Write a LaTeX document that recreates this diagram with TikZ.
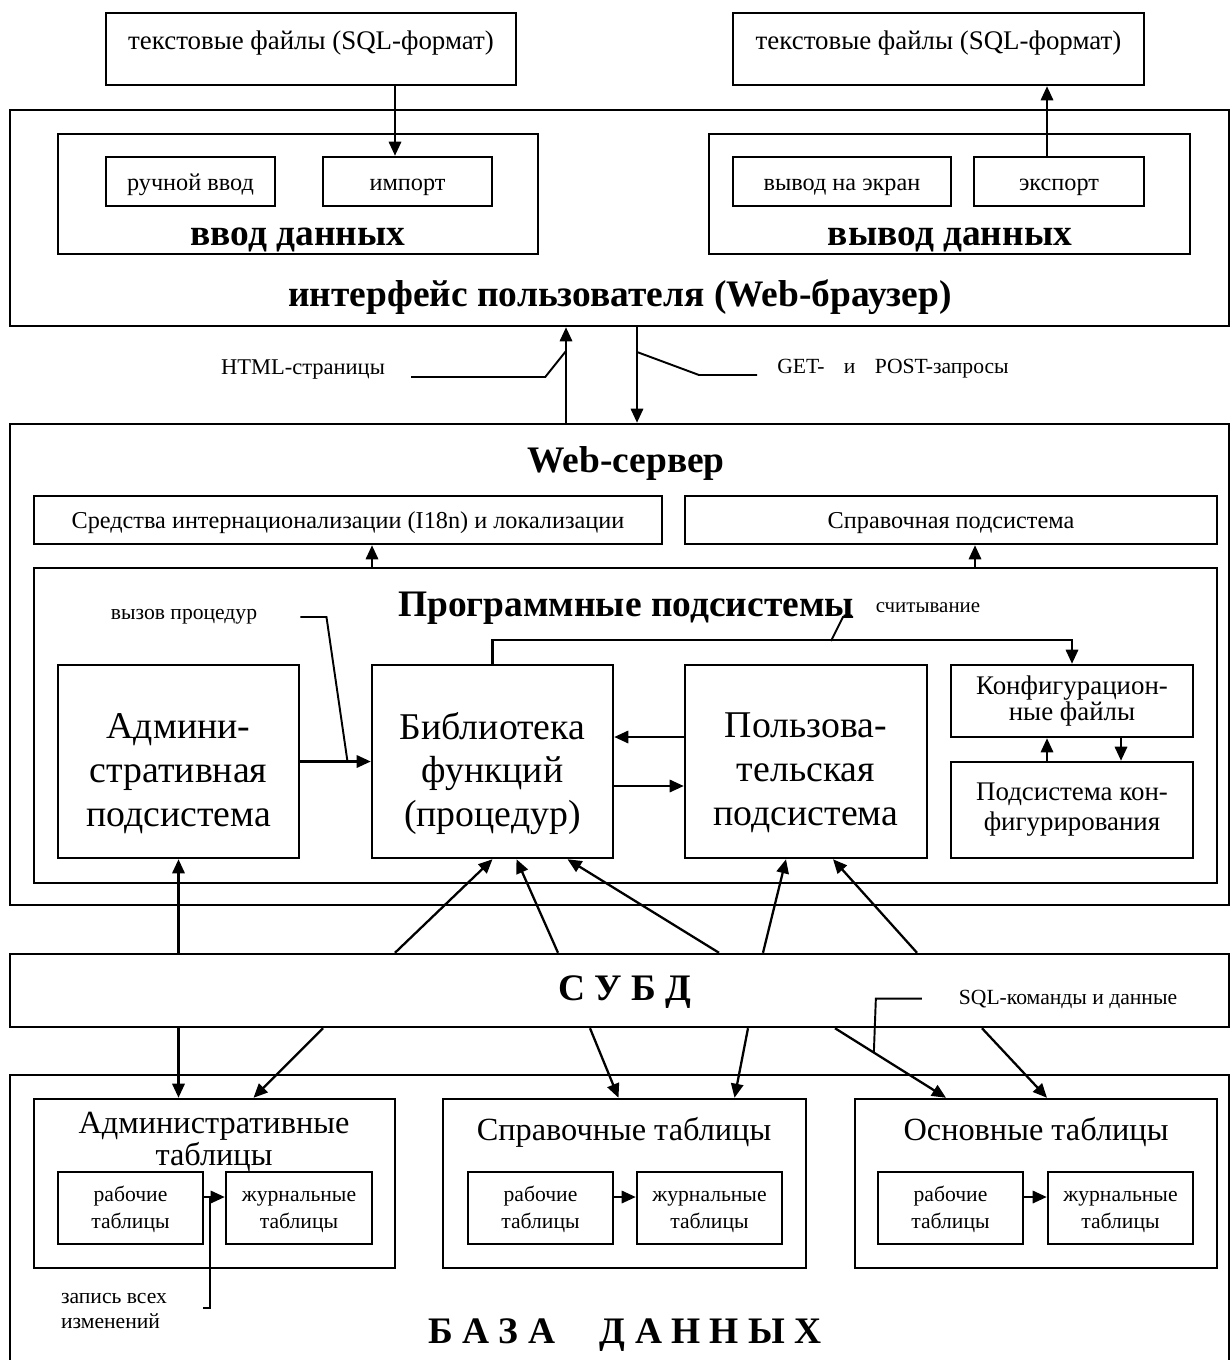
\documentclass[tikz,border=0pt]{standalone}
\usepackage{fontspec}
\setmainfont{Liberation Serif}
\usepackage{tikz}
\usetikzlibrary{arrows.meta, calc}

\tikzset{
  box/.style={draw, line width=1.4pt, inner sep=0pt, align=center},
  arr/.style={-{Triangle[length=8pt, width=7pt]}, line width=1.3pt},
  lead/.style={line width=1.1pt},
  hdr/.style={inner sep=0pt, font=\fontsize{21.3}{24}\selectfont\bfseries},
  big/.style={inner sep=0pt, align=center, font=\fontsize{21.5}{25}\selectfont},
  txt/.style={text height=13pt, text depth=3pt, font=\fontsize{13.8}{16}\selectfont},
  mid/.style={inner sep=0pt, align=center, font=\fontsize{18.4}{17}\selectfont},
  small/.style={font=\fontsize{12.3}{15.4}\selectfont},
  lbl/.style={inner sep=0pt, font=\fontsize{12.3}{14}\selectfont},
}

\begin{document}
\begin{tikzpicture}[x=0.2mm, y=-0.2mm]
  \useasboundingbox (0,0) rectangle (1231,1360);

  % user interface
  \node[box, minimum width=82mm, minimum height=14.4mm] (txtin) at (311,49) {};
  \node[inner sep=0pt, font=\fontsize{15.3}{18}\selectfont] (txtinname) at ($(txtin.north)+(0,31)$) {текстовые файлы (SQL-формат)};
  \node[box, minimum width=82.2mm, minimum height=14.4mm] (txtout) at (938.5,49) {};
  \node[inner sep=0pt, font=\fontsize{15.3}{18}\selectfont] (txtoutname) at ($(txtout.north)+(0,31)$) {текстовые файлы (SQL-формат)};

  \node[box, minimum width=243.8mm, minimum height=43.2mm] (ui) at (619.5,218) {};
  \node[box, minimum width=96mm, minimum height=24mm] (ingrp) at (298,194) {};
  \node[box, txt, minimum width=33.8mm, minimum height=9.8mm] (manual) at (190.5,181.5) {ручной ввод};
  \node[box, txt, minimum width=33.8mm, minimum height=9.8mm] (import) at (407.5,181.5) {импорт};
  \node[hdr] (inname) at (298,240) {ввод данных};
  \node[box, minimum width=96.2mm, minimum height=24mm] (outgrp) at (949.5,194) {};
  \node[box, txt, minimum width=43.6mm, minimum height=9.8mm] (screen) at (842,181.5) {вывод на экран};
  \node[box, txt, minimum width=34mm, minimum height=9.8mm] (export) at (1059,181.5) {экспорт};
  \node[hdr] (outname) at (950,240) {вывод данных};
  \node[hdr] (uiname) at (620,297) {интерфейс пользователя (Web-браузер)};

  \draw[arr] (txtin.south -| 395,0) -- (import.north -| 395,0);
  \draw[arr] (export.north -| 1047,0) -- (txtout.south -| 1047,0);

  % web server
  \node[box, minimum width=243.8mm, minimum height=96.2mm] (web) at (619.5,664.5) {};
  \draw[arr] (web.north -| 566,0) -- (ui.south -| 566,0);
  \draw[arr] (ui.south -| 637,0) -- (web.north -| 637,0);
  \node[lbl, font=\fontsize{12.8}{14}\selectfont] (html) at (303,370) {HTML-страницы};
  \draw[lead] ($(html.east)+(26,7)$) -- ++(134,0) -- (566,351);
  \node[lbl] (getpost) at (893,369) {GET-\hspace{0.9em}и\hspace{0.9em}POST-запросы};
  \draw[lead] (637,352) -- ++(62,23) -- ++(58,0);

  \node[hdr] (webname) at (626,463) {Web-сервер};
  \node[box, txt, minimum width=125.6mm, minimum height=9.6mm] (i18n) at (348,520) {Средства интернационализации (I18n) и локализации};
  \node[box, txt, minimum width=106.4mm, minimum height=9.6mm] (help) at (951,520) {Справочная подсистема};
  \node[box, minimum width=236.6mm, minimum height=63mm] (prog) at (625.5,725.5) {};
  \draw[arr] (prog.north -| 372,0) -- (i18n.south -| 372,0);
  \draw[arr] (prog.north -| 975,0) -- (help.south -| 975,0);
  \node[hdr] (progname) at (626,608) {Программные подсистемы};

  \node[box, minimum width=48.2mm, minimum height=38.6mm] (admin) at (178.5,761.5) {};
  \node[big] (admintext) at ($(admin)+(0,12)$) {Админи-\\стративная\\подсистема};
  \node[box, minimum width=48.2mm, minimum height=38.6mm] (lib) at (492.5,761.5) {};
  \node[big] (libtext) at ($(lib)+(0,12)$) {Библиотека\\функций\\(процедур)};
  \node[box, minimum width=48.4mm, minimum height=38.6mm] (polz) at (806,761.5) {};
  \node[big] (polztext) at ($(polz)+(0,11)$) {Пользова-\\тельская\\подсистема};
  \node[box, font=\fontsize{15.3}{13.7}\selectfont, minimum width=48.4mm, minimum height=14.4mm] (cfg) at (1072,701) {Конфигурацион-\\ные файлы};
  \node[box, font=\fontsize{15.3}{17}\selectfont, minimum width=48.4mm, minimum height=19.2mm] (cfgsub) at (1072,810) {Подсистема кон-\\фигурирования};

  \draw[arr] (admin.east) -- (lib.west);
  \draw[arr] (polz.west |- 0,737) -- (lib.east |- 0,737);
  \draw[arr] (lib.east |- 0,786) -- (polz.west |- 0,786);
  \draw[arr] (lib.north) -- ++(0,-24) -| (cfg.north);
  \draw[arr] (cfgsub.north -| 1047,0) -- (cfg.south -| 1047,0);
  \draw[arr] (cfg.south -| 1121,0) -- (cfgsub.north -| 1121,0);

  \node[lbl] (callp) at (184,617) {вызов процедур};
  \draw[lead] ($(callp.east)+(43,0)$) -- ++(26,0) -- ($(admin.east)!0.67!(lib.west)$);
  \node[lbl, font=\fontsize{11.9}{14}\selectfont] (readlbl) at (928,608) {считывание};
  \draw[lead] (853,617) -- (843,617) -- (831,641);

  % DBMS
  \node[box, minimum width=243.8mm, minimum height=14.6mm] (subd) at (619.5,990.5) {};
  \node[hdr] (subdname) at (625,992) {С У Б Д};
  \draw[arr] (subd.north -| admin.south) -- (admin.south);
  \draw[arr] (subd.north -| 395,0) -- (lib.south);
  \draw[arr] (subd.north -| 558,0) -- ($(lib.south)+(24,0)$);
  \draw[arr] (subd.north -| 719,0) -- ($(lib.south)+(75,0)$);
  \draw[arr] (subd.north -| 763,0) -- ($(polz.south)+(-20,0)$);
  \draw[arr] (subd.north -| 917,0) -- ($(polz.south)+(27,0)$);

  % database
  \draw[line width=1.4pt] (10,1360) |- (1229,1075) -- (1229,1360);
  \node[box, minimum width=72.2mm, minimum height=33.8mm] (adtab) at (214.5,1183.5) {};
  \node[mid] (adtabname) at (214,1142) {Административные\\таблицы};
  \node[box, small, minimum width=29mm, minimum height=14.4mm] (adw) at (130.5,1208) {\strut рабочие\\таблицы};
  \node[box, small, minimum width=29.2mm, minimum height=14.4mm] (adl) at (299,1208) {\strut журнальные\\таблицы};
  \node[box, minimum width=72.6mm, minimum height=33.8mm] (sptab) at (624.5,1183.5) {};
  \node[mid] (sptabname) at (624,1132) {Справочные таблицы};
  \node[box, small, minimum width=29mm, minimum height=14.4mm] (spw) at (540.5,1208) {\strut рабочие\\таблицы};
  \node[box, small, minimum width=29mm, minimum height=14.4mm] (spl) at (709.5,1208) {\strut журнальные\\таблицы};
  \node[box, minimum width=72.4mm, minimum height=33.8mm] (ostab) at (1036,1183.5) {};
  \node[mid] (ostabname) at (1036,1132) {Основные таблицы};
  \node[box, small, minimum width=29mm, minimum height=14.4mm] (osw) at (950.5,1208) {\strut рабочие\\таблицы};
  \node[box, small, minimum width=29mm, minimum height=14.4mm] (osl) at (1120.5,1208) {\strut журнальные\\таблицы};

  \draw[arr] ($(adw.east)+(0,-11)$) -- ($(adl.west)+(0,-11)$);
  \draw[arr] ($(spw.east)+(0,-11)$) -- ($(spl.west)+(0,-11)$);
  \draw[arr] ($(osw.east)+(0,-11)$) -- ($(osl.west)+(0,-11)$);

  \draw[arr] (subd.south -| admin.south) -- (adtab.north -| admin.south);
  \draw[arr] (subd.south -| 323,0) -- ($(adtab.north)+(39,0)$);
  \draw[arr] (subd.south -| 590,0) -- ($(sptab.north)+(-6,0)$);
  \draw[arr] (subd.south -| 748,0) -- ($(sptab.north)+(110,0)$);
  \coordinate (sq1) at (subd.south -| 835,0);
  \coordinate (sq2) at ($(ostab.north)+(-90,0)$);
  \draw[arr] (sq1) -- (sq2);
  \draw[arr] (subd.south -| 982,0) -- ($(ostab.north)+(11,0)$);

  \node[lbl] (sqllbl) at (1068,999) {SQL-команды и данные};
  \draw[lead] ($(sq1)!0.35!(sq2)$) -- ++(2,-54) -- ++(46,0);

  \node[lbl, align=left, font=\fontsize{12.3}{13.7}\selectfont] (zapis) at (114,1311) {запись всех\\изменений};
  \draw[lead] ($(zapis.east)+(36,-3)$) -| ($(adw.east)!0.26!(adl.west)+(0,-11)$);

  \node[hdr] (dbname) at (625,1335) {Б А З А\hspace{1.2em}Д А Н Н Ы Х};
\end{tikzpicture}
\end{document}
